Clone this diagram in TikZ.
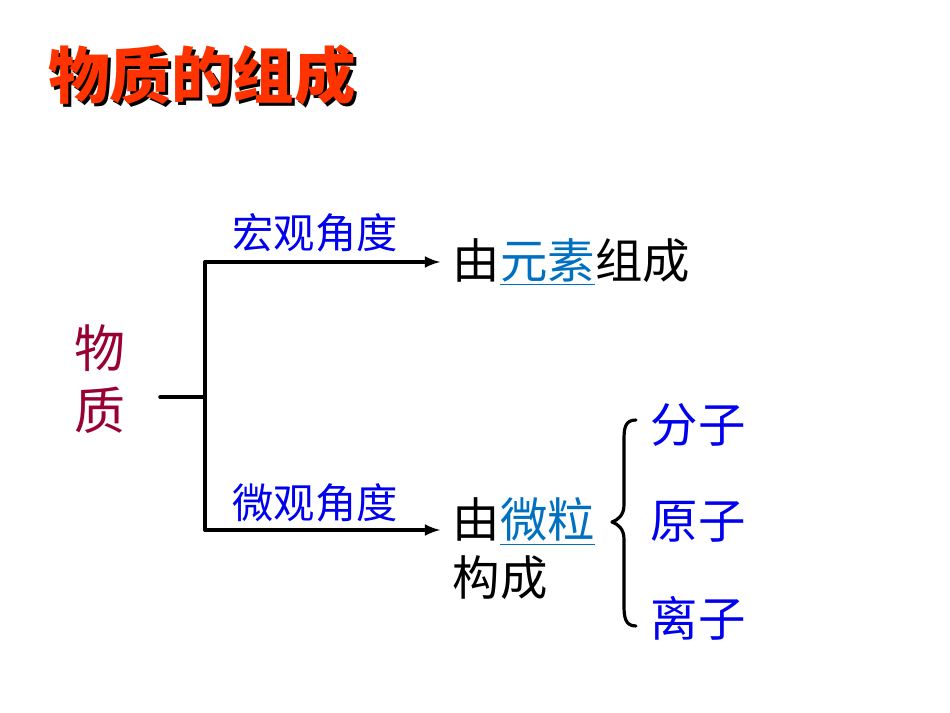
\documentclass[tikz,border=0pt]{standalone}
\usepackage{fontspec}
\newfontfamily\cjk{Noto Sans CJK SC}
\usetikzlibrary{positioning}
\definecolor{titlered}{HTML}{FF3300}
\definecolor{wine}{HTML}{990033}
\definecolor{viewblue}{HTML}{0000EE}
\definecolor{linkblue}{HTML}{0070C0}
\begin{document}
\begin{tikzpicture}[x=0.02cm, y=-0.02cm, >=latex, line join=round, line cap=round,
    font=\cjk, every node/.style={inner sep=2pt},
    title/.style={font=\cjk\bfseries\fontsize{35}{40}\selectfont},
    lead/.style={text=wine, font=\cjk\fontsize{29}{32}\selectfont},
    view/.style={text=viewblue, font=\cjk\fontsize{23.5}{28}\selectfont},
    result/.style={anchor=west, align=left, font=\cjk\fontsize{27}{33}\selectfont},
    kind/.style={text=viewblue, font=\cjk\fontsize{27}{30}\selectfont},
    branch/.style={line width=2pt}]
    \useasboundingbox (0,0) rectangle (950,713);
            \node[title, text=black] (shadow) at (205,78) {物质的组成};
            \node[title, text=titlered] (title) at (202,75) {物质的组成};
            \node[lead] (wu) at (100,348) {物};
            \node[lead] (zhi) at (100,410) {质};
            \coordinate (fork) at (160,397);
            \coordinate (mid) at (205,397);
            \coordinate (top) at (205,262);
            \coordinate (bot) at (205,530);
            \node[result] (yuan) at (449,262) {由\textcolor{linkblue}{\underline{元素}}组成};
            \node[result] (wei) at (449,549) {由\textcolor{linkblue}{\underline{微粒}}\\构成};
            \draw[branch] (fork)--(mid) (top)--(bot);
            \draw[branch,->,shorten >=5pt] (top)--(top-|yuan.west);
            \draw[branch,->,shorten >=5pt] (bot)--(bot-|wei.west);
            \node[view] (hong) at (315,233) {宏观角度};
            \node[view] (micro) at (315,503) {微观角度};
            \draw[line width=1.8pt]
            (636,420) .. controls (625,420) and (624,428) .. (624,440) -- (624,505)
            .. controls (624,515) and (618,520) .. (612,522)
            .. controls (618,524) and (624,529) .. (624,539) -- (624,605)
            .. controls (624,617) and (625,626) .. (636,626)
            ;
            \node[kind] (fenzi) at (698,425) {分子};
            \node[kind] (yuanzi) at (698,522) {原子};
            \node[kind] (lizi) at (698,618) {离子};
    \end{tikzpicture}
\end{document}
